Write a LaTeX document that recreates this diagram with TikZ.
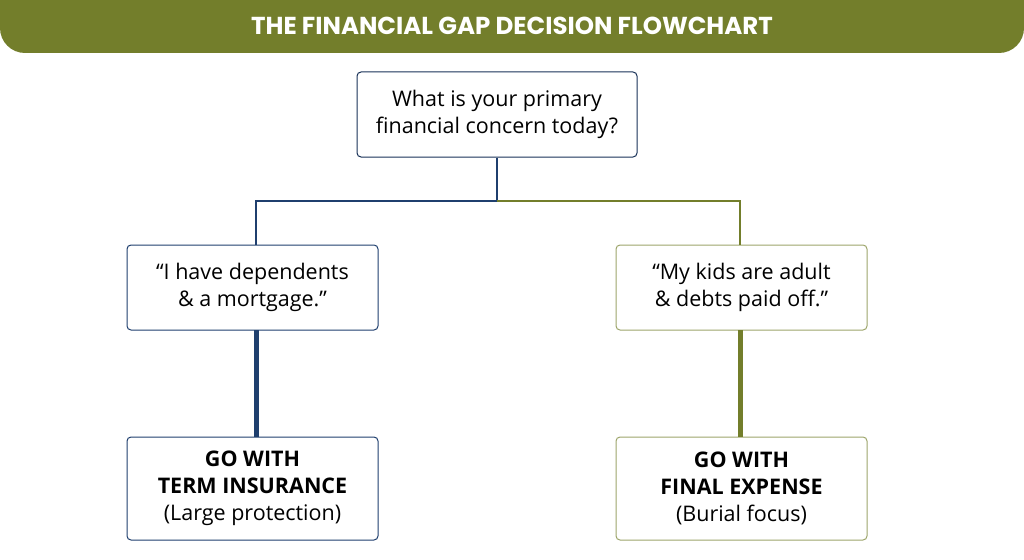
\documentclass[tikz,border=0pt]{standalone}
\usepackage{fontspec}
\setmainfont{Open Sans}
\newfontfamily\ttlfont{Poppins}
\definecolor{olive}{HTML}{737E2B}
\definecolor{navy}{HTML}{1F3F6E}
\begin{document}
\begin{tikzpicture}[x=1pt,y=-1pt,
 box/.style={draw,rounded corners=4pt,line width=1pt,fill=white,align=center,font=\fontsize{21.5}{27}\selectfont,inner sep=0pt},
 thin/.style={line width=1.2pt},
 thick/.style={line width=5pt}]
\useasboundingbox (0,0) rectangle (1024,559);
\fill[olive] (0,0) -- (1024,0) -- (1024,28) arc[start angle=0,end angle=90,radius=25] -- (25,53) arc[start angle=90,end angle=180,radius=25] -- cycle;
\node[white,font=\ttlfont\bfseries\fontsize{24.5}{28}\selectfont] (title) at (512,26) {THE FINANCIAL GAP DECISION FLOWCHART};
\node[box,draw=navy!80!black,minimum width=280pt,minimum height=85pt] (q) at (497,114.5) {What is your primary\\financial concern today?};
\node[box,draw=navy,minimum width=251pt,minimum height=85pt] (l) at (252.5,287.5) {“I have dependents\\\& a mortgage.”};
\node[box,draw=olive!70,minimum width=251pt,minimum height=85pt] (r) at (741.5,287.5) {“My kids are adult\\\& debts paid off.”};
\node[box,draw=navy,minimum width=251pt,minimum height=103pt] (tl) at (252.5,488.5) {\bfseries GO WITH\\\bfseries TERM INSURANCE\\(Large protection)};
\node[box,draw=olive!70,minimum width=251pt,minimum height=103pt] (tr) at (741.5,488.5) {\bfseries GO WITH\\\bfseries FINAL EXPENSE\\(Burial focus)};
\coordinate (j) at (497,201);
\draw[thin,navy] (q.south) -- (j) -| (256,245);
\draw[thin,olive] (j) -| (740,245);
\draw[thick,navy] (256,330) -- (256,437);
\draw[thick,olive] (740,330) -- (740,437);
\end{tikzpicture}
\end{document}
